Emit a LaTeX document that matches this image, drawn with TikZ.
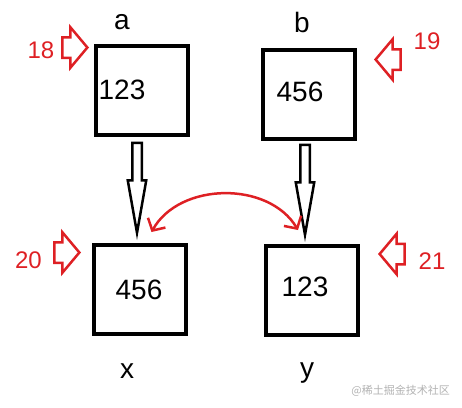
\documentclass[tikz,border=0pt]{standalone}
\usepackage{fontspec}
\setmainfont{Liberation Sans}
\newfontfamily\cjk{Noto Sans CJK SC}
\usepackage{xcolor}
\usepackage{tikz}
\usetikzlibrary{arrows.meta,shapes.arrows}
\definecolor{penred}{RGB}{222,32,36}

\begin{document}
\begin{tikzpicture}[
  x=1pt,y=-1pt,
  cell/.style={draw,line width=4,minimum width=92,minimum height=89,inner sep=0},
  val/.style={anchor=base,font=\fontsize{28}{32}\selectfont,inner sep=0},
  var/.style={anchor=base,font=\fontsize{28}{32}\selectfont,inner sep=0},
  addr/.style={anchor=base,text=penred,font=\fontsize{24}{28}\selectfont,inner sep=0},
  ptr/.style={single arrow,draw=penred,line width=2.5,inner sep=0,inner ysep=9,
    single arrow head extend=10,single arrow tip angle=100,minimum height=25,anchor=tip},
  copy/.style={single arrow,draw,line width=2.5,inner sep=0,inner xsep=3.5,
    single arrow head extend=4.5,single arrow tip angle=20,minimum height=90,
    shape border rotate=270,anchor=tip},
  swap/.style={penred,line width=2.5,
    {Straight Barb[length=9,width=20]}-{Straight Barb[length=9,width=20]}},
]
\useasboundingbox (0,0) rectangle (462,407);
\node[cell] (a) at (142,90.5) {};
\node[cell] (b) at (309,94) {};
\node[cell] (x) at (139.5,289.5) {};
\node[cell] (y) at (312,290.5) {};
\node[val] (va) at (122,99) {123};
\node[val] (vb) at (300,101) {456};
\node[val] (vx) at (139,299) {456};
\node[val] (vy) at (305,296) {123};
\node[var] (na) at (122,29) {a};
\node[var] (nb) at (302,32) {b};
\node[var] (nx) at (127,378) {x};
\node[var] (ny) at (307,377) {y};
\node[addr] (m18) at (41,58) {18};
\node[addr] (m19) at (427,49) {19};
\node[addr] (m20) at (28.5,268) {20};
\node[addr] (m21) at (432,269) {21};
\node[ptr] (p18) at (89,47.5) {};
\node[ptr,shape border rotate=180] (p19) at (374,59.5) {};
\node[ptr] (p20) at (81,252.5) {};
\node[ptr,shape border rotate=180] (p21) at (378,254) {};
\node[copy] (cax) at (137,240) {};
\node[copy] (cby) at (305,242) {};
\draw[swap] ([shift={(12,-11)}]x.north) to[bend left=60] ([shift={(-14,-14)}]y.north);
\node[anchor=base east,text=black!30,font=\cjk\fontsize{11}{13}\selectfont,inner sep=0]
  (wm) at (450,394) {@稀土掘金技术社区};
\end{tikzpicture}
\end{document}
